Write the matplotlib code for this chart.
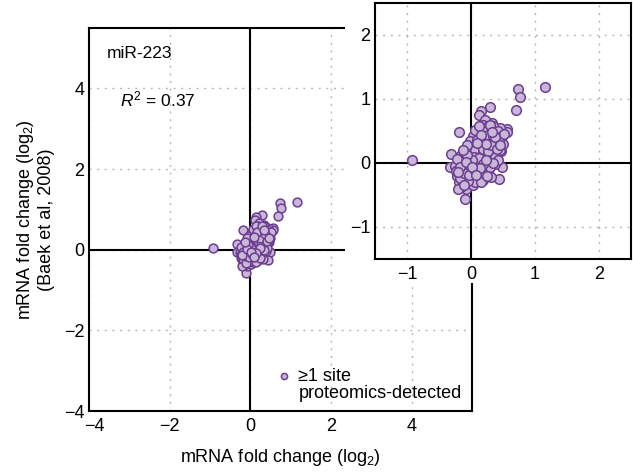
import matplotlib
matplotlib.use("Agg")
import matplotlib.pyplot as plt
import matplotlib.transforms as mtransforms
from matplotlib.lines import Line2D
from matplotlib.patches import Rectangle

plt.rcParams['font.family'] = ['Liberation Sans', 'DejaVu Sans']
plt.rcParams['mathtext.fontset'] = 'custom'
plt.rcParams['mathtext.rm'] = 'Liberation Sans'
plt.rcParams['mathtext.it'] = 'Liberation Sans:italic'
plt.rcParams['axes.unicode_minus'] = True

# mRNA fold change (log2): this study (x) vs Baek et al, 2008 (y)
x_fc = [
    -0.92, 1.15, 0.74, 0.76, 0.70, 0.30, 0.15, 0.12, -0.18, -0.32,
    -0.33, 0.48, 0.44, -0.10, 0.56, 0.56, 0.45, 0.33, 0.22, 0.18,
    0.25, 0.38, 0.30, 0.42, 0.47, 0.40, 0.36, 0.28, 0.20, 0.10,
    0.05, 0.00, 0.08, 0.15, 0.22, 0.30, 0.35, 0.28, 0.18, 0.10,
    0.02, -0.05, -0.08, -0.12, -0.15, -0.20, -0.25, -0.18, -0.10, -0.03,
    0.05, 0.12, 0.20, 0.27, 0.32, 0.15, 0.08, 0.00, -0.06, -0.14,
    -0.22, -0.19, -0.12, -0.05, 0.02, 0.10, 0.18, -0.08, -0.15, -0.20,
    0.03, -0.02, 0.06, -0.14, 0.12, 0.20, 0.25, 0.32, 0.40, 0.45,
    0.38, 0.24, 0.16, 0.04, -0.04, -0.10, 0.00, 0.07, 0.14, 0.21,
    0.28, 0.35, 0.42, 0.48, 0.50, 0.33, 0.26, 0.11, -0.01, -0.07,
    -0.16, -0.22, -0.13, -0.24, -0.09, 0.06, 0.13, 0.22, 0.30, 0.36,
    0.09, 0.17, 0.03, -0.02, 0.10, 0.18, 0.26, 0.34, 0.44, 0.52,
    0.38, 0.42, 0.20, 0.28, -0.04, -0.17, -0.11, 0.15, 0.25, -0.07,
    0.06, 0.13, 0.05, 0.13, 0.19, 0.26, 0.31, 0.24, 0.16, 0.09,
    0.02, -0.06, -0.11, -0.17, -0.03, 0.04, 0.19, 0.34, 0.41, 0.37,
    0.29, 0.23, 0.14, -0.20, -0.08, 0.01, 0.08, -0.13, 0.46, 0.33,
]
y_fc = [
    0.05, 1.18, 1.16, 1.03, 0.83, 0.87, 0.82, 0.75, 0.49, 0.14,
    -0.06, -0.06, -0.25, -0.57, 0.53, 0.48, 0.55, 0.62, 0.67, 0.60,
    0.56, 0.50, 0.45, 0.38, 0.18, 0.12, 0.25, 0.32, 0.42, 0.45,
    0.38, 0.30, 0.28, 0.30, 0.22, 0.15, 0.05, 0.02, 0.08, 0.12,
    0.15, 0.22, 0.10, 0.05, 0.12, -0.02, -0.05, -0.10, -0.08, -0.02,
    0.02, -0.05, -0.08, -0.12, -0.22, -0.18, -0.12, -0.15, -0.20, -0.18,
    -0.20, -0.30, -0.28, -0.32, -0.25, -0.22, -0.26, -0.40, -0.38, -0.40,
    -0.35, -0.10, -0.05, -0.02, 0.20, 0.15, 0.38, 0.35, 0.30, 0.20,
    -0.02, 0.08, 0.02, 0.08, 0.05, 0.15, 0.22, 0.20, 0.36, 0.48,
    0.52, 0.58, 0.50, 0.42, 0.30, 0.10, -0.04, -0.12, 0.00, -0.06,
    0.00, 0.06, -0.12, -0.12, -0.24, -0.30, -0.16, -0.18, -0.06, 0.18,
    0.05, 0.12, 0.42, 0.34, 0.36, 0.50, 0.44, 0.42, 0.34, 0.45,
    0.10, 0.05, 0.30, 0.24, -0.28, -0.24, -0.34, -0.30, -0.20, 0.28,
    0.52, 0.58, 0.10, 0.08, 0.22, 0.18, 0.28, 0.30, 0.44, 0.32,
    0.05, 0.12, -0.15, -0.06, -0.18, -0.10, -0.02, 0.00, 0.22, 0.40,
    0.60, 0.05, -0.08, -0.14, 0.02, -0.06, -0.18, 0.20, 0.28, 0.48,
]

main_ticks = [-4, -2, 0, 2, 4]
inset_ticks = [-1, 0, 1, 2]
main_lim = (-4, 5.5)
inset_lim = (-1.5, 2.5)
legend_lines = ['≥1 site', 'proteomics-detected']

FACE = '#c9b6d9'
EDGE = '#6b3f8e'
GRID = dict(color='#b8b8b8', linestyle=(0, (1.5, 4)), linewidth=1.0)


def style_axes(ax, ticks, lim, xpad, ypad):
    ax.set_xlim(*lim)
    ax.set_ylim(*lim)
    ax.set_xticks(ticks)
    ax.set_yticks(ticks)
    ax.tick_params(length=0, labelsize=13)
    ax.tick_params(axis='x', pad=xpad)
    ax.tick_params(axis='y', pad=ypad)
    for s in ax.spines.values():
        s.set_linewidth(1.5)
        s.set_color('black')
    ax.grid(True, **GRID)
    ax.set_axisbelow(True)
    ax.axhline(0, color='black', lw=1.5, zorder=1)
    ax.axvline(0, color='black', lw=1.5, zorder=1)


fig = plt.figure(figsize=(6.33, 4.74), dpi=100)
ax = fig.add_axes([0.1406, 0.1329, 0.6051, 0.8080])
style_axes(ax, main_ticks, main_lim, 5, 3.5)
# the corner x label sits a little to the right, clear of the y label
first = ax.get_xticklabels()[0]
first.set_transform(first.get_transform()
                    + mtransforms.ScaledTranslation(0.05, 0, fig.dpi_scale_trans))

sc = ax.scatter(x_fc, y_fc, s=40, facecolor=FACE, edgecolor=EDGE, linewidth=1.1,
                zorder=3)
ax.set_xlabel('mRNA fold change (log$_2$)', fontsize=13, labelpad=9)
ax.set_ylabel('mRNA fold change (log$_2$)\n(Baek et al, 2008)', fontsize=13,
              labelpad=6, linespacing=1.15)
ax.text(-3.55, 4.86, 'miR-223', fontsize=12.5, va='center', ha='left')
ax.text(-3.22, 3.73, '$R^{2}$ = 0.37', fontsize=12.5, va='center', ha='left')

# marker beside the first line only; second line has no handle
blank = Line2D([], [], linestyle='none', marker='none')
ax.legend([sc, blank], legend_lines, loc='lower left',
          bbox_to_anchor=(0.462, 0.0), frameon=False, fontsize=13,
          markerscale=0.7, handletextpad=0.3, handlelength=1.0,
          borderaxespad=0.1, labelspacing=0.0)

# white backing behind the inset and its tick labels
fig.patches.append(Rectangle((0.545, 0.403), 0.455, 0.597, transform=fig.transFigure,
                             facecolor='white', edgecolor='none', zorder=5))

ins = fig.add_axes([0.5924, 0.4536, 0.4044, 0.5401])
ins.set_zorder(10)
style_axes(ins, inset_ticks, inset_lim, 5, 3.5)
ins.scatter(x_fc, y_fc, s=48, facecolor=FACE, edgecolor=EDGE, linewidth=1.1,
            zorder=3)

fig.savefig('out.png', dpi=100)
